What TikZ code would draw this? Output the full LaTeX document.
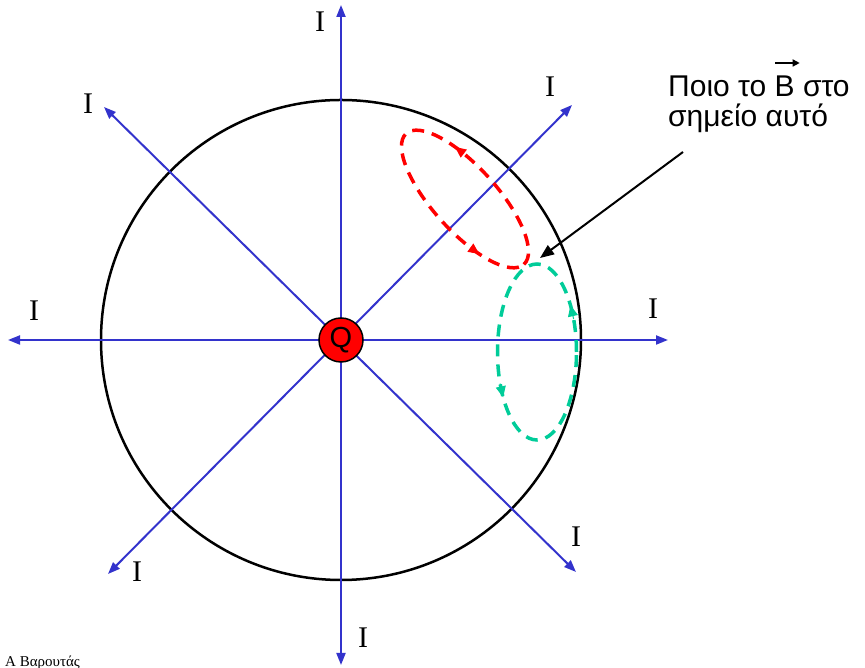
\documentclass[tikz,border=0pt]{standalone}
\usepackage{fontspec}
\setmainfont{Liberation Serif}
\newfontfamily\arialf{Liberation Sans}
\usetikzlibrary{arrows.meta}
\definecolor{axisblue}{RGB}{51,51,204}
\definecolor{loopgreen}{RGB}{0,204,153}
\newcommand{\vecB}{\makebox[0pt][l]{\tikz[baseline=0pt,overlay]\draw[black,line width=1.6pt,-{Triangle[length=7pt,width=7pt]}] (0.5pt,34pt) -- (25pt,34pt);}B}
\begin{document}
\begin{tikzpicture}[x=1pt,y=1pt,
  axis/.style={axisblue,line width=2pt,{Triangle[length=12pt,width=9pt]}-{Triangle[length=12pt,width=9pt]}},
  ilabel/.style={font=\fontsize{30}{30}\selectfont,inner sep=0pt},
  loopline/.style={line width=3.5pt,dash pattern=on 12pt off 8pt},
  looparrow/.style={line width=1pt,-{Triangle[length=11pt,width=10pt]}},
  qnode/.style={circle,draw=black,line width=1.5pt,fill=red,minimum size=44pt,inner sep=0pt,font=\arialf\fontsize{29}{29}\selectfont}]
\useasboundingbox (0,0) rectangle (865,668);
% tips
\coordinate (top) at (341,663);
\coordinate (bot) at (341,3);
\coordinate (lft) at (8,328);
\coordinate (rgt) at (668,328);
\coordinate (ul) at (104,561);
\coordinate (lr) at (576,96);
\coordinate (ur) at (572,563);
\coordinate (ll) at (108,94);
\coordinate (c) at (341,328);
% big circle
\draw[black,line width=2.5pt] (c) circle[radius=240];
% axes
\draw[axis] (bot) -- (top);
\draw[axis] (lft) -- (rgt);
\draw[axis] (ll) -- (ur);
\draw[axis] (lr) -- (ul);
% Q
\node[qnode] (q) at (c) {Q};
% labels
\node[ilabel] (i1) at (320,646) {I};
\node[ilabel] (i2) at (88,564) {I};
\node[ilabel] (i3) at (550,581) {I};
\node[ilabel] (i4) at (34,357) {I};
\node[ilabel] (i5) at (653,359) {I};
\node[ilabel] (i6) at (576,131) {I};
\node[ilabel] (i7) at (137,96) {I};
\node[ilabel] (i8) at (363,30) {I};
% red loop
\begin{scope}[shift={(465,469)},rotate=-48]
  \draw[red,loopline] (0,0) ellipse[x radius=88,y radius=32];
  \draw[red,looparrow] ({88*cos(113)},{32*sin(113)}) -- ({88*cos(121)},{32*sin(121)});
  \draw[red,looparrow] ({88*cos(297)},{32*sin(297)}) -- ({88*cos(305)},{32*sin(305)});
\end{scope}
% green loop
\begin{scope}[shift={(537,316)}]
  \draw[loopgreen,loopline] (0,0) ellipse[x radius=39.5,y radius=88];
  \draw[loopgreen,looparrow] ({39.5*cos(22)},{88*sin(22)}) -- ({39.5*cos(32)},{88*sin(32)});
  \draw[loopgreen,looparrow] ({39.5*cos(201)},{88*sin(201)}) -- ({39.5*cos(211)},{88*sin(211)});
\end{scope}
% question text
\node[anchor=base west,align=left,inner sep=0pt,font=\arialf\fontsize{30}{30}\selectfont] (txt) at (668,541) {Ποιο το \vecB{} στο\\σημείο αυτό};
\coordinate (pstart) at (683,516);
\coordinate (pend) at (540,410);
\draw[black,line width=2pt,-{Triangle[length=14pt,width=11pt]}] (pstart) -- (pend);
% author
\node[anchor=base west,inner sep=0pt,font=\fontsize{15}{15}\selectfont] (auth) at (5,1) {Α Βαρουτάς};
\end{tikzpicture}
\end{document}
